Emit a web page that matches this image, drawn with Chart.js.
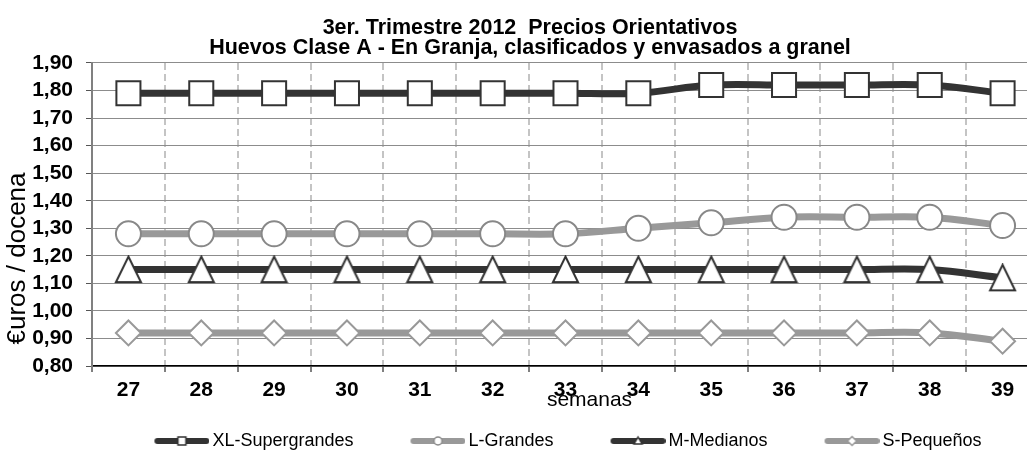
<!DOCTYPE html>
<html>
<head>
<meta charset="utf-8">
<script src="https://cdn.jsdelivr.net/npm/chart.js@4.4.1/dist/chart.umd.min.js"></script>
<style>
  html, body { margin: 0; padding: 0; background: #fff; overflow: hidden; }
</style>
</head>
<body>
<canvas id="chart" width="1060" height="460"></canvas>
<script>
const weeks = ['27', '28', '29', '30', '31', '32', '33', '34', '35', '36', '37', '38', '39'];
const xlSupergrandes = [1.79, 1.79, 1.79, 1.79, 1.79, 1.79, 1.79, 1.79, 1.82, 1.82, 1.82, 1.82, 1.79];
const lGrandes = [1.28, 1.28, 1.28, 1.28, 1.28, 1.28, 1.28, 1.30, 1.32, 1.34, 1.34, 1.34, 1.31];
const mMedianos = [1.15, 1.15, 1.15, 1.15, 1.15, 1.15, 1.15, 1.15, 1.15, 1.15, 1.15, 1.15, 1.12];
const sPequenos = [0.92, 0.92, 0.92, 0.92, 0.92, 0.92, 0.92, 0.92, 0.92, 0.92, 0.92, 0.92, 0.89];
const seriesNames = ['XL-Supergrandes', 'L-Grandes', 'M-Medianos', 'S-Pequeños'];
const titleLines = ['3er. Trimestre 2012  Precios Orientativos', 'Huevos Clase A - En Granja, clasificados y envasados a granel'];
const xTitle = 'semanas';
const yTitle = '€uros / docena';

const FONT = '"Liberation Sans", Arial, sans-serif';
const DARK = '#333333';
const LIGHT = '#999999';

// small canvases used as point styles
const makeIcon = (w, h, draw) => {
    const c = document.createElement('canvas');
    c.width = w;
    c.height = h;
    draw(c.getContext('2d'));
    return c;
};

const triangleMarker = makeIcon(29, 29, ctx => {
    ctx.beginPath();
    ctx.moveTo(14.5, 1.5);
    ctx.lineTo(27, 27);
    ctx.lineTo(2, 27);
    ctx.closePath();
    ctx.fillStyle = '#fff';
    ctx.fill();
    ctx.lineWidth = 2;
    ctx.strokeStyle = DARK;
    ctx.stroke();
});

// legend sample: line with a small marker, drawn in the right part of the icon
const legendIcon = (color, markerColor, shape) => makeIcon(88, 14, ctx => {
    const cx = 60.5;
    ctx.strokeStyle = color;
    ctx.lineWidth = 6;
    ctx.lineCap = 'round';
    ctx.beginPath();
    ctx.moveTo(36, 7);
    ctx.lineTo(85, 7);
    ctx.stroke();
    ctx.fillStyle = '#fff';
    ctx.strokeStyle = markerColor;
    ctx.lineWidth = 1.5;
    ctx.beginPath();
    if (shape === 'rect') ctx.rect(cx - 4, 3, 8, 8);
    if (shape === 'circle') ctx.arc(cx, 7, 4, 0, Math.PI * 2);
    if (shape === 'triangle') { ctx.moveTo(cx, 3); ctx.lineTo(cx + 4, 10); ctx.lineTo(cx - 4, 10); ctx.closePath(); }
    if (shape === 'diamond') { ctx.moveTo(cx, 2.5); ctx.lineTo(cx + 4.5, 7); ctx.lineTo(cx, 11.5); ctx.lineTo(cx - 4.5, 7); ctx.closePath(); }
    ctx.fill();
    ctx.stroke();
});

const legendIcons = [
    legendIcon(DARK, DARK, 'rect'),
    legendIcon(LIGHT, '#888', 'circle'),
    legendIcon(DARK, DARK, 'triangle'),
    legendIcon(LIGHT, '#999', 'diamond')
];

const makeSeries = (label, values, color, markerColor, style, radius) => ({
    label: label,
    data: values,
    borderColor: color,
    borderWidth: 7,
    backgroundColor: color,
    pointStyle: style,
    pointRadius: radius,
    pointHoverRadius: radius,
    pointBackgroundColor: '#fff',
    pointBorderColor: markerColor,
    pointBorderWidth: 2,
    tension: 0.35
});

const chartExtras = {
    id: 'chartExtras',
    afterLayout(chart) {
        // legend items sit a little left of the plot centre
        chart.legend.left -= 11;
        chart.legend.right -= 11;
    },
    afterDraw(chart) {
        const {ctx, chartArea} = chart;
        ctx.save();
        ctx.fillStyle = '#000';
        ctx.textAlign = 'center';
        ctx.textBaseline = 'middle';
        ctx.font = '21px ' + FONT;
        ctx.fillText(xTitle, (chartArea.left + chartArea.right) / 2 + 24, chartArea.bottom + 34);
        ctx.translate(18, (chartArea.top + chartArea.bottom) / 2 + 44);
        ctx.rotate(-Math.PI / 2);
        ctx.font = '26px ' + FONT;
        ctx.fillText(yTitle, 0, 0);
        ctx.restore();
    }
};

new Chart(document.getElementById('chart'), {
    type: 'line',
    data: {
        labels: weeks,
        datasets: [
            makeSeries(seriesNames[0], xlSupergrandes, DARK, DARK, 'rect', 17),
            makeSeries(seriesNames[1], lGrandes, LIGHT, '#888', 'circle', 12.5),
            makeSeries(seriesNames[2], mMedianos, DARK, DARK, triangleMarker, 13),
            makeSeries(seriesNames[3], sPequenos, LIGHT, '#999', 'rectRot', 12.5)
        ]
    },
    options: {
        responsive: false,
        animation: false,
        layout: { padding: { left: 21, right: 21, top: 0, bottom: 0 } },
        plugins: {
            title: {
                display: true,
                text: titleLines,
                color: '#000',
                font: { family: FONT, size: 21.5, weight: 'bold', lineHeight: 0.93 },
                padding: { top: 18, bottom: 5 }
            },
            legend: {
                position: 'bottom',
                fullSize: false,
                labels: {
                    usePointStyle: true,
                    pointStyleWidth: 76,
                    padding: 30,
                    color: '#000',
                    font: { family: FONT, size: 18 },
                    generateLabels: chart => chart.data.datasets.map((ds, i) => ({
                        text: ds.label,
                        pointStyle: legendIcons[i],
                        fillStyle: ds.borderColor,
                        strokeStyle: ds.borderColor,
                        lineWidth: 0,
                        hidden: false,
                        datasetIndex: i
                    }))
                }
            },
            tooltip: { enabled: false }
        },
        scales: {
            x: {
                offset: true,
                afterFit: scale => { scale.height = 36; },
                grid: {
                    offset: true,
                    color: '#c4c4c4',
                    lineWidth: 2,
                    tickColor: '#000',
                    tickWidth: 1,
                    tickLength: 6
                },
                border: { color: '#000', width: 1.5, dash: [7, 4] },
                ticks: {
                    color: '#000',
                    padding: 6,
                    autoSkip: false,
                    maxRotation: 0,
                    font: { family: FONT, size: 21, weight: 'bold' }
                }
            },
            y: {
                min: 0.8,
                max: 1.9,
                afterFit: scale => { scale.width = 71; },
                grid: {
                    color: '#8c8c8c',
                    lineWidth: 1,
                    tickColor: '#555',
                    tickLength: 6
                },
                border: { color: '#808080', width: 2 },
                ticks: {
                    stepSize: 0.1,
                    autoSkip: false,
                    color: '#000',
                    padding: 13,
                    font: { family: FONT, size: 21, weight: 'bold' },
                    callback: value => value.toFixed(2).replace('.', ',')
                }
            }
        }
    },
    plugins: [chartExtras]
});
</script>
</body>
</html>
